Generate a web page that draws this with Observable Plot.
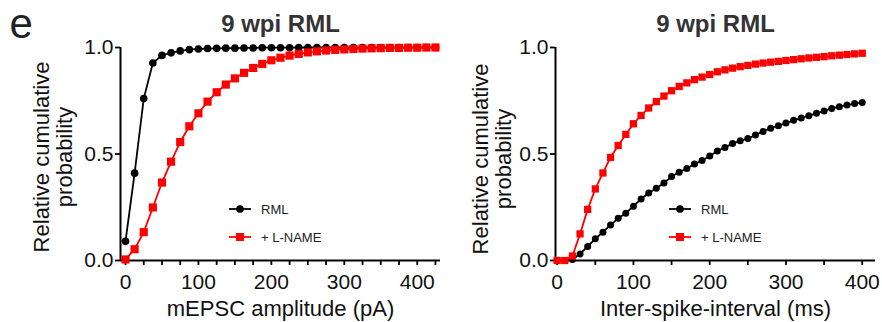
<!DOCTYPE html>
<html>
<head>
<meta charset="utf-8">
<script src="https://cdn.jsdelivr.net/npm/d3@7"></script>
<script src="https://cdn.jsdelivr.net/npm/@observablehq/plot@0.6"></script>
<style>
  html, body { margin: 0; padding: 0; background: #fff; }
  #chart { position: relative; width: 882px; height: 322px; overflow: hidden;
           font-family: "Liberation Sans", Arial, sans-serif; }
  .panel { position: absolute; top: 0; }
  .legend { position: absolute; font-size: 13px; color: #222; }
  .legend-row { position: absolute; display: flex; align-items: center; white-space: nowrap; }
  .legend-row svg { display: block; }
  .legend-row span { margin-left: 9px; }
</style>
</head>
<body>
<div id="chart"></div>
<script>
// ---------- data ----------
const panelLetter = "e";
const panelTitle = "9 wpi RML";
const yLabel = "Relative cumulative\nprobability";
const seriesNames = ["RML", "+ L-NAME"];
const seriesColors = ["#000000", "#ff0000"];
const seriesSymbols = ["circle", "square"];
const yTicks = [0, 0.5, 1];

// Panel 1: mEPSC amplitude
const ampLabel = "mEPSC amplitude (pA)";
const ampX = [0, 12.5, 25, 37.5, 50, 62.5, 75, 87.5, 100, 112.5, 125, 137.5, 150, 162.5, 175, 187.5,
  200, 212.5, 225, 237.5, 250, 262.5, 275, 287.5, 300, 312.5, 325, 337.5, 350, 362.5, 375, 387.5,
  400, 412.5, 425];
const ampRML = [0.09, 0.41, 0.76, 0.927, 0.963, 0.975, 0.984, 0.99, 0.993, 0.995, 0.996, 0.997, 0.997,
  0.998, 0.998, 0.999, 0.999, 0.999, 0.999, 1.0, 1.0, 1.0, 1.0, 1.0, 1.0, 1.0, 1.0, 1.0, 1.0, 1.0, 1.0,
  1.0, 1.0, 1.0, 1.0];
const ampLNAME = [0.005, 0.053, 0.133, 0.249, 0.366, 0.464, 0.556, 0.63, 0.691, 0.746, 0.79, 0.826,
  0.855, 0.881, 0.904, 0.923, 0.94, 0.952, 0.962, 0.97, 0.977, 0.982, 0.986, 0.989, 0.991, 0.993,
  0.995, 0.996, 0.997, 0.998, 0.998, 0.999, 0.999, 1.0, 1.0];
const ampMinorTicks = [0, 25, 50, 75, 100, 125, 150, 175, 200, 225, 250, 275, 300, 325, 350, 375, 400, 425];
const ampMajorTicks = [0, 100, 200, 300, 400];

// Panel 2: inter-spike interval
const isiLabel = "Inter-spike-interval (ms)";
const isiX = [0, 10, 20, 30, 40, 50, 60, 70, 80, 90, 100, 110, 120, 130, 140, 150, 160, 170, 180, 190,
  200, 210, 220, 230, 240, 250, 260, 270, 280, 290, 300, 310, 320, 330, 340, 350, 360, 370, 380, 390, 400];
const isiRML = [0, 0, 0.005, 0.031, 0.066, 0.102, 0.133, 0.167, 0.198, 0.222, 0.255, 0.289, 0.317, 0.339,
  0.364, 0.394, 0.414, 0.432, 0.453, 0.469, 0.491, 0.514, 0.531, 0.549, 0.562, 0.573, 0.589, 0.606,
  0.621, 0.633, 0.645, 0.658, 0.669, 0.68, 0.691, 0.702, 0.714, 0.722, 0.73, 0.737, 0.742];
const isiLNAME = [0, 0, 0.021, 0.125, 0.24, 0.336, 0.411, 0.484, 0.54, 0.592, 0.642, 0.681, 0.716, 0.746,
  0.772, 0.797, 0.817, 0.834, 0.849, 0.861, 0.873, 0.886, 0.895, 0.903, 0.91, 0.916, 0.922, 0.927,
  0.931, 0.935, 0.939, 0.943, 0.947, 0.951, 0.954, 0.957, 0.961, 0.964, 0.967, 0.97, 0.973];
const isiMinorTicks = [0, 50, 100, 150, 200, 250, 300, 350, 400];
const isiMajorTicks = [0, 100, 200, 300, 400];

// ---------- drawing ----------
const FONT = '"Liberation Sans", Arial, sans-serif';

function toRows(xs, ys, name) {
  return xs.map((x, i) => ({x, y: ys[i], series: name}));
}

function panel(cfg) {
  const rows = [toRows(cfg.xs, cfg.s1, seriesNames[0]), toRows(cfg.xs, cfg.s2, seriesNames[1])];
  const marks = [];
  // axis lines
  marks.push(Plot.ruleY([0], {stroke: "#000", strokeWidth: 2}));
  marks.push(Plot.ruleX([cfg.xDomain[0]], {stroke: "#000", strokeWidth: 2}));
  // ticks
  marks.push(Plot.axisX(cfg.minor, {tickSize: 5, strokeWidth: 1.8, tickFormat: () => "", label: null}));
  marks.push(Plot.axisX(cfg.major, {tickSize: 0, tickPadding: 14, fontSize: 21, fill: "#111", label: null,
    tickFormat: d3.format("d")}));
  marks.push(Plot.axisY(yTicks, {tickSize: 5, tickPadding: cfg.yPad, strokeWidth: 1.8, fontSize: 21, fill: "#111",
    label: null, tickFormat: d3.format(".1f")}));
  // series
  rows.forEach((r, i) => {
    marks.push(Plot.line(r, {x: "x", y: "y", stroke: seriesColors[i], strokeWidth: 1.8}));
    marks.push(Plot.dot(r, {x: "x", y: "y", symbol: seriesSymbols[i], fill: seriesColors[i],
      stroke: "none", r: i === 0 ? cfg.rc : cfg.rs}));
  });
  // texts
  marks.push(Plot.text([panelTitle], {frameAnchor: "top", textAnchor: "middle", lineAnchor: "middle",
    dy: -22.7, fontSize: 24, fontWeight: "bold", fill: "#333"}));
  marks.push(Plot.text([cfg.xLabel], {frameAnchor: "bottom", textAnchor: "middle", lineAnchor: "middle",
    dy: 48, fontSize: 22, fill: "#111"}));
  marks.push(Plot.text([yLabel], {frameAnchor: "left", textAnchor: "middle", lineAnchor: "middle",
    rotate: -90, dx: cfg.yLabelDx, dy: cfg.yLabelDy, fontSize: 22, lineHeight: 1.05, fill: "#111"}));
  if (cfg.letter) {
    marks.push(Plot.text([panelLetter], {frameAnchor: "top-left", textAnchor: "start", lineAnchor: "middle",
      dx: -111, dy: -22.5, fontSize: 42, fill: "#222"}));
  }
  return Plot.plot({
    width: 441, height: 322,
    marginLeft: cfg.ml, marginRight: cfg.mr, marginTop: 47, marginBottom: 62,
    style: {fontFamily: FONT, color: "#000", background: "transparent", overflow: "visible"},
    x: {domain: cfg.xDomain},
    y: {domain: [0, 1]},
    marks
  });
}

const chart = document.getElementById("chart");

const p1 = panel({xs: ampX, s1: ampRML, s2: ampLNAME, xDomain: [-6.86, 431.9], minor: ampMinorTicks,
  major: ampMajorTicks, xLabel: ampLabel, ml: 120, mr: 1, yPad: 2, yLabelDx: -67, yLabelDy: 3,
  rc: 3.8, rs: 4.6, letter: true});
const p2 = panel({xs: isiX, s1: isiRML, s2: isiLNAME, xDomain: [-2.2, 417.4], minor: isiMinorTicks,
  major: isiMajorTicks, xLabel: isiLabel, ml: 114, mr: 7, yPad: 2, yLabelDx: -63, yLabelDy: 5,
  rc: 3.5, rs: 4.1, letter: false});

[p1, p2].forEach((p, i) => {
  const wrap = document.createElement("div");
  wrap.className = "panel";
  wrap.style.left = (i * 441) + "px";
  wrap.appendChild(p);
  chart.appendChild(wrap);
});

// legends
function legend(iconCenterX, rowYs) {
  seriesNames.forEach((name, i) => {
    const row = document.createElement("div");
    row.className = "legend-row legend";
    row.style.left = (iconCenterX - 12) + "px";
    row.style.top = (rowYs[i] - 10) + "px";
    row.style.height = "20px";
    const svg = d3.create("svg").attr("width", 24).attr("height", 20);
    svg.append("line").attr("x1", 1).attr("x2", 23).attr("y1", 10).attr("y2", 10)
      .attr("stroke", seriesColors[i]).attr("stroke-width", 1.8);
    if (seriesSymbols[i] === "circle") {
      svg.append("circle").attr("cx", 12).attr("cy", 10).attr("r", 3.8).attr("fill", seriesColors[i]);
    } else {
      svg.append("rect").attr("x", 8).attr("y", 6).attr("width", 8).attr("height", 8).attr("fill", seriesColors[i]);
    }
    row.appendChild(svg.node());
    const span = document.createElement("span");
    span.textContent = name;
    row.appendChild(span);
    chart.appendChild(row);
  });
}
legend(240, [209, 237]);
legend(680, [209, 237]);
</script>
</body>
</html>
